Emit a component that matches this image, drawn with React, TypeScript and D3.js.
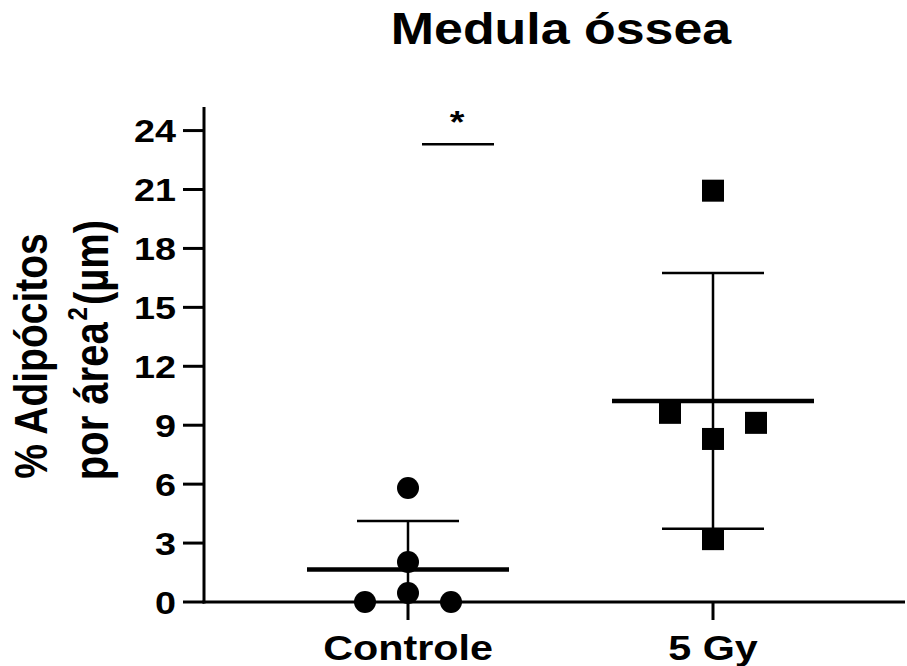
import React from "react";
import * as d3 from "d3";

const title = "Medula óssea";
const categories = ["Controle", "5 Gy"];
const controleValues = [0.46, 0, 0, 2.04, 5.8];
const gyValues = [8.3, 9.63, 9.12, 20.94, 3.2];
const yTicks = [0, 3, 6, 9, 12, 15, 18, 21, 24];
const yLabelLine1 = "% Adipócitos";
const yLabelLine2a = "por área";
const yLabelSup = "2";
const yLabelLine2b = "(µm)";
const sigValue = 23.3;
const sigText = "*";

const W = 907;
const H = 666;
const SX = 1.18; // horizontal stretch of the reference
const FONT = "'Liberation Sans', Arial, Helvetica, sans-serif";

const x = d3.scalePoint<string>().domain(categories).range([408, 713]);
const y = d3.scaleLinear().domain([0, 25.2]).range([602, 107]);

const R = 11;
const SLOT = 43;

function swarm(values: number[]) {
  const idx = values.map((_, i) => i).sort((a, b) => y(values[b]) - y(values[a]));
  const slots = new Array(values.length).fill(0);
  let band: number[] = [];
  const flush = () => {
    const order = [0, -1, 1, -2, 2, -3, 3];
    band.slice().sort((a, b) => a - b).forEach((i, k) => (slots[i] = order[k]));
    band = [];
  };
  let start = 0;
  idx.forEach((i) => {
    if (band.length && y(values[start]) - y(values[i]) > 3 * R) flush();
    if (!band.length) start = i;
    band.push(i);
  });
  flush();
  return slots;
}

const groups = [
  { name: categories[0], values: controleValues, shape: "circle" },
  { name: categories[1], values: gyValues, shape: "square" },
];

export default function App() {
  const x0 = 204;
  const x1 = 905;
  const y0 = y(0);
  return (
    <svg
      width={W}
      height={H}
      style={{ position: "absolute", left: 0, top: 0, background: "#fff" }}
      fontFamily={FONT}
      fontWeight="bold"
    >
      <rect width={W} height={H} fill="#fff" />
      {/* title */}
      <text transform={`translate(561,44) scale(${SX},1)`} textAnchor="middle" fontSize={44}>
        {title}
      </text>
      {/* y axis label */}
      <text transform={`translate(47,356) scale(${SX},1) rotate(-90)`} textAnchor="middle" fontSize={39}>
        {yLabelLine1}
      </text>
      <text transform={`translate(108,350) scale(${SX},1) rotate(-90)`} textAnchor="middle" fontSize={40}>
        {yLabelLine2a}
        <tspan fontSize={24} dx={2} dy={-18}>{yLabelSup}</tspan>
        <tspan dx={2} dy={18}>{yLabelLine2b}</tspan>
      </text>
      {/* axes */}
      <line x1={x0} x2={x0} y1={y(25.2)} y2={y0 + 1.5} stroke="#000" strokeWidth={3} />
      <line x1={x0 - 1.5} x2={x1} y1={y0} y2={y0} stroke="#000" strokeWidth={3} />
      {yTicks.map((t) => (
        <g key={t}>
          <line x1={183} x2={x0} y1={y(t)} y2={y(t)} stroke="#000" strokeWidth={3} />
          <text
            transform={`translate(176,${y(t) + 11.5}) scale(${SX},1)`}
            textAnchor="end"
            fontSize={32}
          >
            {t}
          </text>
        </g>
      ))}
      {categories.map((c) => (
        <g key={c}>
          <line x1={x(c)!} x2={x(c)!} y1={y0} y2={y0 + 18} stroke="#000" strokeWidth={3} />
          <text transform={`translate(${x(c)!},660) scale(${SX},1)`} textAnchor="middle" fontSize={35}>
            {c}
          </text>
        </g>
      ))}
      {/* data */}
      {groups.map((g) => {
        const cx = x(g.name)!;
        const slots = swarm(g.values);
        const m = d3.mean(g.values)!;
        const sd = d3.deviation(g.values)!;
        const hi = m + sd;
        const lo = Math.max(m - sd, 0);
        return (
          <g key={g.name}>
            {g.values.map((v, i) => {
              const px = cx + slots[i] * SLOT;
              const py = y(v);
              return g.shape === "circle" ? (
                <circle key={i} cx={px} cy={py} r={R} fill="#000" />
              ) : (
                <rect key={i} x={px - R} y={py - R} width={2 * R} height={2 * R} fill="#000" />
              );
            })}
            <line x1={cx} x2={cx} y1={y(hi)} y2={y(lo)} stroke="#000" strokeWidth={2.5} />
            <line x1={cx - 51} x2={cx + 51} y1={y(hi)} y2={y(hi)} stroke="#000" strokeWidth={2.5} />
            {m - sd > 0 && (
              <line x1={cx - 51} x2={cx + 51} y1={y(lo)} y2={y(lo)} stroke="#000" strokeWidth={2.5} />
            )}
            <line x1={cx - 101} x2={cx + 101} y1={y(m)} y2={y(m)} stroke="#000" strokeWidth={4.5} />
          </g>
        );
      })}
      {/* significance */}
      <line
        x1={x(categories[0])! + 14}
        x2={x(categories[0])! + 86}
        y1={y(sigValue)}
        y2={y(sigValue)}
        stroke="#000"
        strokeWidth={2.5}
      />
      <text transform={`translate(457,133) scale(${SX},1)`} textAnchor="middle" fontSize={32}>
        {sigText}
      </text>
    </svg>
  );
}
